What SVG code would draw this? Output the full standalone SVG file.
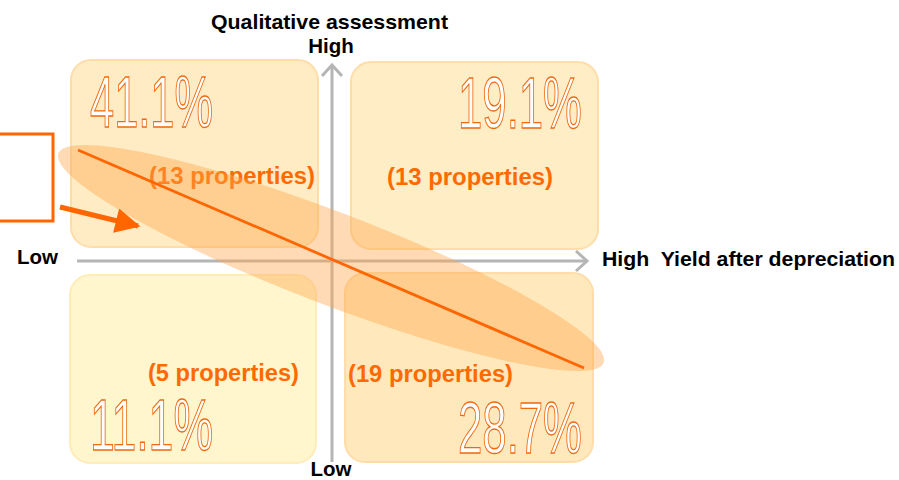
<svg xmlns="http://www.w3.org/2000/svg" width="899" height="480" viewBox="0 0 899 480">
<style>
.lbl{font-family:"Liberation Sans",Arial,sans-serif;font-weight:bold;font-size:20.5px;fill:#000}
.cnt{font-family:"Liberation Sans",Arial,sans-serif;font-weight:bold;font-size:23px;fill:#FF6A00}
.pct{font-family:"Liberation Sans Narrow","Liberation Sans",Arial,sans-serif;font-size:72px;fill:#fff;stroke:#EE6A12;stroke-width:1.3}
.axis{stroke:#B5B5B5;stroke-width:3;fill:none}
</style>
<defs>
<marker id="ah" viewBox="0 0 10 10" refX="9" refY="5" markerWidth="5.5" markerHeight="5" orient="auto" markerUnits="strokeWidth">
<path d="M0,0 L10,5 L0,10 z" fill="#FF6600"/>
</marker>
</defs>
<rect width="899" height="480" fill="#fff"/>
<g id="q-top-left">
<rect x="71" y="60" width="247" height="187" rx="20" fill="#FFECC4" stroke="#FFDDAA" stroke-width="2"/>
<text class="pct" x="90" y="127" textLength="123" lengthAdjust="spacingAndGlyphs">41.1%</text>
<text class="cnt" x="149" y="184" textLength="166" lengthAdjust="spacingAndGlyphs">(13 properties)</text>
</g>
<g id="q-top-right">
<rect x="351" y="62" width="247" height="187" rx="20" fill="#FFEDC6" stroke="#FFDDAA" stroke-width="2"/>
<text class="pct" x="458" y="128" textLength="124" lengthAdjust="spacingAndGlyphs">19.1%</text>
<text class="cnt" x="387" y="185" textLength="166" lengthAdjust="spacingAndGlyphs">(13 properties)</text>
</g>
<g id="q-bottom-left">
<rect x="70" y="275" width="246" height="188" rx="20" fill="#FFF6CE" stroke="#FFECB8" stroke-width="2"/>
<text class="cnt" x="148" y="381" textLength="151" lengthAdjust="spacingAndGlyphs">(5 properties)</text>
<text class="pct" x="90" y="450" textLength="123" lengthAdjust="spacingAndGlyphs">11.1%</text>
</g>
<g id="q-bottom-right">
<rect x="345" y="273" width="248" height="189" rx="20" fill="#FFE9BC" stroke="#FFDCA8" stroke-width="2"/>
<text class="cnt" x="348" y="382" textLength="165" lengthAdjust="spacingAndGlyphs">(19 properties)</text>
<text class="pct" x="458" y="453" textLength="124" lengthAdjust="spacingAndGlyphs">28.7%</text>
</g>
<g id="connectors">
<line class="axis" x1="332" y1="66" x2="332" y2="462"/>
<path class="axis" d="M322,76 L332,65 L342,76"/>
<line class="axis" x1="77" y1="261" x2="586" y2="261"/>
<path class="axis" d="M576,251 L587,261 L576,271"/>
<ellipse cx="331" cy="258" rx="292" ry="46" transform="rotate(21 331 258)" fill="#FFA64D" fill-opacity="0.42"/>
<line x1="78" y1="150" x2="584" y2="368" stroke="#FF6600" stroke-width="2.8"/>
<line x1="60" y1="207" x2="138" y2="226" stroke="#FF6600" stroke-width="5" marker-end="url(#ah)"/>
</g>
<g id="callout-box">
<rect x="-10" y="134" width="63" height="87" fill="none" stroke="#FF6600" stroke-width="3"/>
</g>
<g id="labels">
<text class="lbl" x="211" y="29" textLength="237" lengthAdjust="spacingAndGlyphs">Qualitative assessment</text>
<text class="lbl" x="331" y="53" text-anchor="middle">High</text>
<text class="lbl" x="17" y="264">Low</text>
<text class="lbl" x="602" y="266" xml:space="preserve" textLength="293" lengthAdjust="spacingAndGlyphs">High  Yield after depreciation</text>
<text class="lbl" x="331" y="476" text-anchor="middle">Low</text>
</g>
</svg>
